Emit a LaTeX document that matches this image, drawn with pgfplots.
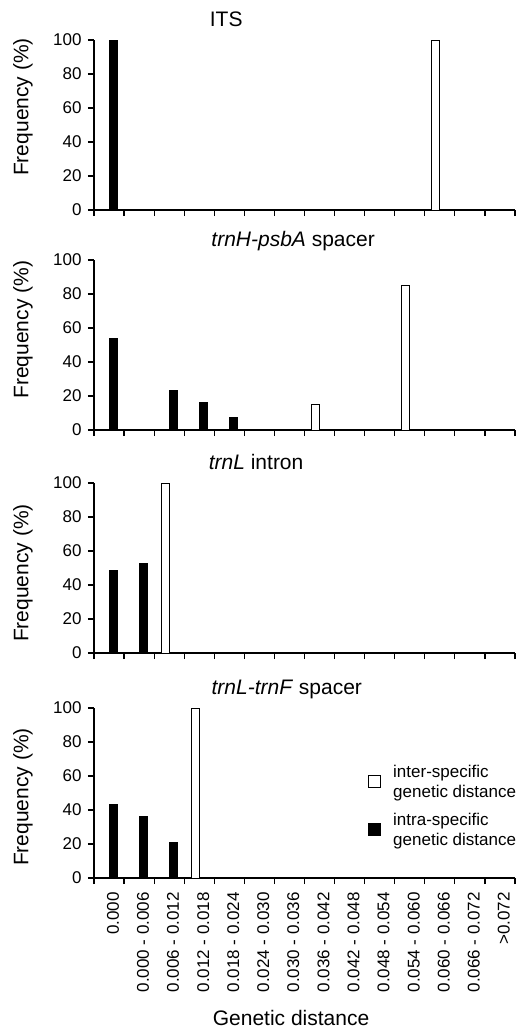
\documentclass[border=0pt]{standalone}
\usepackage{fontspec}
\setmainfont{Liberation Sans}
\usepackage{pgfplots}
\pgfplotsset{compat=1.18}

\newcommand{\tickfont}{\fontsize{17}{19}\selectfont}
\newcommand{\labfont}{\fontsize{21}{24}\selectfont}
\newcommand{\legfont}{\fontsize{17}{20}\selectfont}

% one panel: 14 distance classes at x = 0..13
\pgfplotsset{
  panel/.style 2 args={
    scale only axis, width=421pt, height=170pt,
    ybar=0pt, bar width=8pt,
    xmin=-0.5, xmax=13.5, ymin=0, ymax=100,
    axis x line=bottom, axis y line=left,
    axis line style={-, line width=1.2pt},
    every tick/.style={black, line width=1.2pt},
    tick align=outside,
    ytick={0,20,...,100},
    xtick={0.13,1.13,2.13,3.13,4.13,5.13,6.13,7.13,8.13,9.13,10.13,11.13,12.13,13.13},
    major x tick style={draw=none},
    minor xtick={-0.5,0.5,...,13.5},
    major tick length=6pt, minor tick length=6pt,
    xticklabels={},
    tick label style={font=\tickfont},
    yticklabel shift=3pt,
    /pgf/number format/assume math mode=true,
    ylabel={Frequency (\%)},
    ylabel style={font=\labfont, at={(axis description cs:-0.169,#2)}, anchor=center},
    title style={font=\labfont, at={(axis description cs:#1,1)}, anchor=base, yshift=7.5pt},
  },
  inter/.style={fill=white, draw=black, line width=0.9pt,
    legend image code/.code={\draw[fill=white, draw=black, line width=0.9pt] (0pt,-6pt) rectangle (12pt,6pt); \path (22pt,0pt);}},
  intra/.style={fill=black, draw=black, line width=0.9pt,
    legend image code/.code={\draw[fill=black, draw=black, line width=0.9pt] (0pt,-6pt) rectangle (12pt,6pt); \path (22pt,0pt);}},
}

\begin{document}
\begin{tikzpicture}
\useasboundingbox (0pt,0pt) rectangle (518pt,-1028pt);

\begin{axis}[panel={0.314}{0.606}, at={(94pt,-210pt)}, anchor=south west,
  title={ITS}]
\addplot[inter] coordinates {(11,100)};
\addplot[intra] coordinates {(0,100)};
\end{axis}

\begin{axis}[panel={0.473}{0.59}, at={(94pt,-430pt)}, anchor=south west,
  title={\textit{trnH-psbA} spacer}]
\addplot[inter] coordinates {(7,15) (10,85)};
\addplot[intra] coordinates {(0,54) (2,23.5) (3,16) (4,7.5)};
\end{axis}

\begin{axis}[panel={0.385}{0.47}, at={(94pt,-653pt)}, anchor=south west,
  title={\textit{trnL} intron}]
\addplot[inter] coordinates {(2,100)};
\addplot[intra] coordinates {(0,48.5) (1,52.5)};
\end{axis}

\begin{axis}[panel={0.458}{0.476}, at={(94pt,-878pt)}, anchor=south west,
  title={\textit{trnL-trnF} spacer},
  xticklabels={0.000, 0.000 - 0.006, 0.006 - 0.012, 0.012 - 0.018,
    0.018 - 0.024, 0.024 - 0.030, 0.030 - 0.036, 0.036 - 0.042,
    0.042 - 0.048, 0.048 - 0.054, 0.054 - 0.060, 0.060 - 0.066,
    0.066 - 0.072, >0.072},
  xticklabel style={rotate=90, anchor=east, inner sep=0pt},
  xticklabel shift=8pt,
  xlabel={Genetic distance},
  xlabel style={font=\labfont, at={(axis description cs:0.468,0)}, anchor=base, yshift=-147pt},
  legend style={at={(axis description cs:0.644,0.69)}, anchor=north west,
    draw=none, fill=none, font=\legfont, row sep=10pt,
    cells={anchor=west, align=left}},
]
\addplot[inter] coordinates {(3,100)};
\addlegendentry{inter-specific\\genetic distance}
\addplot[intra] coordinates {(0,43.5) (1,36) (2,21)};
\addlegendentry{intra-specific\\genetic distance}
\end{axis}
\end{tikzpicture}
\end{document}
